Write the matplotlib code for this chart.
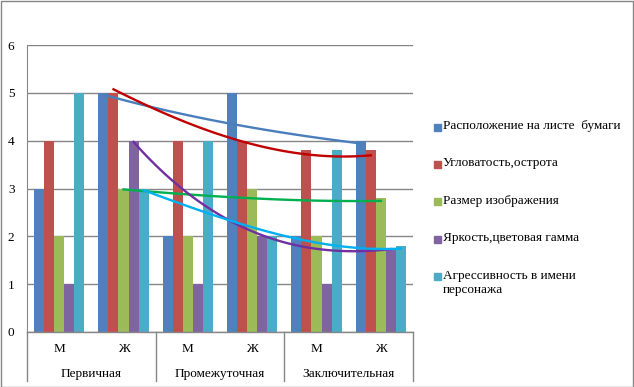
import matplotlib
matplotlib.use('Agg')
import matplotlib.pyplot as plt
from matplotlib.patches import Rectangle
import numpy as np

plt.rcParams['font.family'] = ['Liberation Serif', 'DejaVu Serif']

# data
stages = ['Первичная', 'Промежуточная', 'Заключительная']
sexes = ['М', 'Ж']
series = ['Расположение на листе  бумаги', 'Угловатость,острота', 'Размер изображения',
          'Яркость,цветовая гамма', 'Агрессивность в имени\nперсонажа']
values = [
    [3, 5, 2, 5, 2, 4],
    [4, 5, 4, 4, 3.8, 3.8],
    [2, 3, 2, 3, 2, 2.8],
    [1, 4, 1, 2, 1, 1.75],
    [5, 3, 4, 2, 3.8, 1.8],
]
trend_cats = [1, 2, 3, 4, 5]
trend_values = [
    [4.96, 4.63, 4.34, 4.13, 3.94],
    [5.07, 4.47, 3.96, 3.73, 3.69],
    [2.98, 2.88, 2.79, 2.75, 2.74],
    [3.97, 2.76, 2.00, 1.73, 1.73],
    [2.96, 2.50, 2.05, 1.82, 1.74],
]

bar_colors = ['#4F81BD', '#C0504D', '#9BBB59', '#8064A2', '#4BACC6']
trend_colors = ['#4A7EBB', '#C00000', '#00B050', '#7030A0', '#00B0F0']
GRID = '#868686'
FS = 9.5

W, H = 634, 387
fig = plt.figure(figsize=(W / 100, H / 100), dpi=100)
ax = fig.add_axes([27 / W, (H - 332) / H, 386 / W, (332 - 45) / H])

n_cat = len(stages) * len(sexes)
x = np.arange(n_cat)
bw = 10 / 64.33
for j, (vals, c) in enumerate(zip(values, bar_colors)):
    ax.bar(x + (j - 2) * bw, vals, width=bw, color=c, zorder=2)

for j, (tv, c) in enumerate(zip(trend_values, trend_colors)):
    xs = np.array(trend_cats) + (j - 2) * bw
    coef = np.polyfit(xs, tv, 3)
    xx = np.linspace(xs[0], xs[-1], 100)
    ax.plot(xx, np.polyval(coef, xx), color=c, lw=1.7, zorder=3)

ax.set_xlim(-0.5, n_cat - 0.5)
ax.set_ylim(0, 6)
ax.set_yticks(range(7))
ax.yaxis.grid(True, color=GRID, lw=1)
ax.set_axisbelow(True)
for s in ['top', 'right', 'bottom']:
    ax.spines[s].set_visible(False)
ax.spines['left'].set_color(GRID)
ax.tick_params(axis='y', length=0, pad=9, labelsize=FS)
ax.set_xticks(x)
ax.set_xticklabels(sexes * len(stages), fontsize=FS)
ax.tick_params(axis='x', length=0, pad=8)

# axis line and group separators below the plot
ax.plot([-0.5, n_cat - 0.5], [0, 0], color=GRID, lw=1, clip_on=False, zorder=4)
for b in range(len(stages) + 1):
    ax.plot([-0.5 + 2 * b] * 2, [0, -49 / 47.8], color=GRID, lw=1, clip_on=False)
for k, st in enumerate(stages):
    ax.text(2 * k + 0.5, -42 / 47.8, st, ha='center', va='center', fontsize=FS)

# legend
for j, (name, c) in enumerate(zip(series, bar_colors)):
    yy = H - (127 + 37.4 * j)
    fig.patches.append(Rectangle((434 / W, (yy - 3.5) / H), 7 / W, 7 / H,
                                 color=c, transform=fig.transFigure))
    fig.text(443 / W, (yy + 7) / H, name, ha='left', va='top', fontsize=FS,
             linespacing=1.3)

# chart border
fig.patches.append(Rectangle((0.5 / W, 0.5 / H), (W - 1.5) / W, (H - 1.5) / H,
                             fill=False, edgecolor=GRID, lw=1, transform=fig.transFigure))

fig.savefig('out.png', dpi=100)
